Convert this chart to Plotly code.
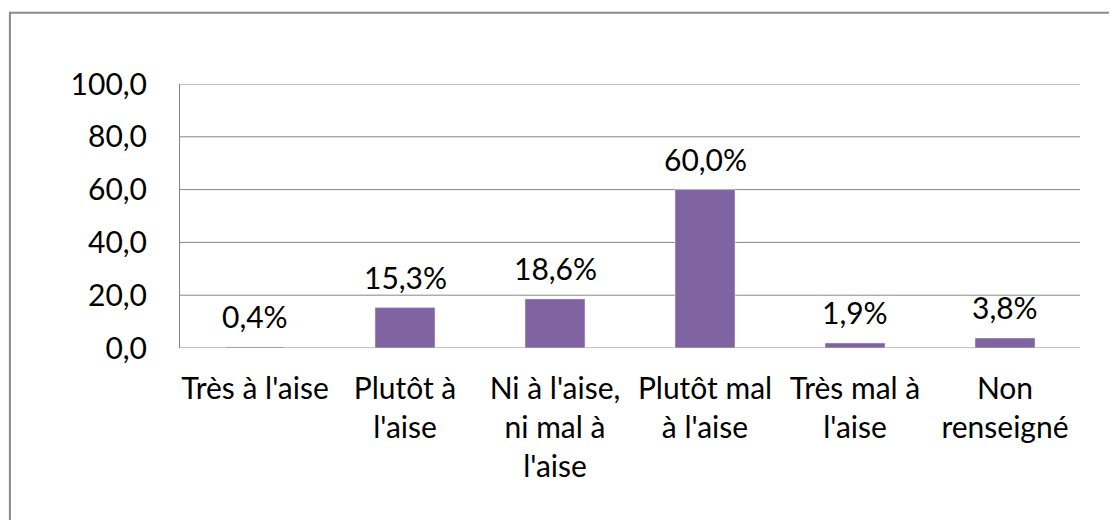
"""Bar chart: ease level distribution (Excel-style recreation)."""

import plotly.graph_objects as go

CATEGORIES = [
    "Très à l'aise",
    "Plutôt à<br>l'aise",
    "Ni à l'aise,<br>ni mal à<br>l'aise",
    "Plutôt mal<br>à l'aise",
    "Très mal à<br>l'aise",
    "Non<br>renseigné",
]
VALUES = [0.4, 15.3, 18.6, 60.0, 1.9, 3.8]
Y_TICKS = [0, 20, 40, 60, 80, 100]

BAR_COLOR = "#8064A2"
GRID = "#878787"
TEXT = "#000000"
FONT = "Lato"
SIZE = 30

fig = go.Figure(go.Bar(
    x=list(range(len(CATEGORIES))),
    y=VALUES,
    marker_color=BAR_COLOR,
    width=0.4,
    hoverinfo="skip",
))

# data labels above each bar
for i, v in enumerate(VALUES):
    fig.add_annotation(
        x=i, y=v,
        text=f"{v:.1f}%".replace(".", ","),
        showarrow=False,
        yanchor="middle",
        yshift=31,
        font=dict(family=FONT, size=SIZE, color=TEXT),
    )

# horizontal gridlines across the category span (incl. the baseline)
for t in Y_TICKS:
    fig.add_shape(
        type="line", xref="x", yref="y",
        x0=-0.5, x1=len(CATEGORIES) - 0.5, y0=t, y1=t,
        line=dict(color=GRID, width=1),
        layer="below",
    )

# outer chart border (runs off the right/bottom of the picture)
fig.add_shape(
    type="rect", xref="paper", yref="paper",
    x0=-0.189, x1=1.2, y0=-0.9, y1=1.27,
    line=dict(color="#8a8a8a", width=2),
    fillcolor="rgba(0,0,0,0)",
    layer="below",
)

# page body adds an 8px offset, so the figure is 8px smaller
fig.update_layout(
    width=1109,
    height=512,
    margin=dict(l=172, r=37, t=76, b=172),
    paper_bgcolor="white",
    plot_bgcolor="white",
    separators=", ",
    showlegend=False,
    font=dict(family=FONT, size=SIZE, color=TEXT),
)
# invisible ticks are used to push the labels away from the axes
fig.update_yaxes(
    range=[0, 100],
    tickvals=Y_TICKS,
    tickformat=".1f",
    showgrid=False,
    showline=True,
    linecolor=GRID,
    linewidth=1,
    zeroline=False,
    ticks="outside",
    ticklen=26,
    tickcolor="rgba(0,0,0,0)",
    tickfont=dict(family=FONT, size=SIZE, color=TEXT),
)
fig.update_xaxes(
    range=[-0.5, len(CATEGORIES) - 0.5],
    tickvals=list(range(len(CATEGORIES))),
    ticktext=CATEGORIES,
    showline=False,
    showgrid=False,
    zeroline=False,
    ticks="outside",
    ticklen=14,
    tickcolor="rgba(0,0,0,0)",
    tickangle=0,
    tickfont=dict(family=FONT, size=SIZE, color=TEXT),
)

fig.write_html("out.html", config=dict(displayModeBar=False))
